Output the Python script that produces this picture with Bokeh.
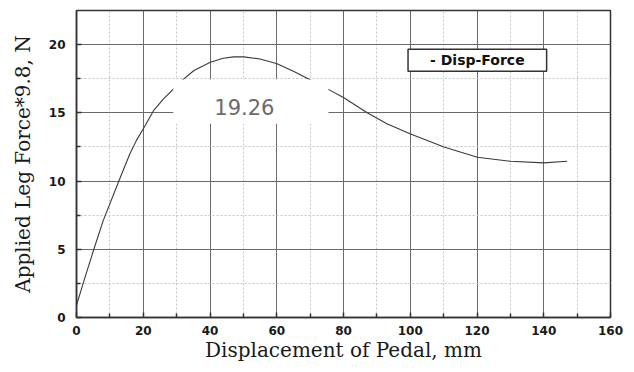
from bokeh.plotting import figure
from bokeh.models import Range1d, Label, FixedTicker
from bokeh.embed import file_html
from bokeh.resources import INLINE

# ---- data ----
disp_mm = [0, 2.5, 5.2, 8, 12.7, 16, 18, 20.2, 23.2, 26, 29.1, 31.7, 35.2, 40.1, 44,
           47.1, 50.1, 55, 60.1, 65, 70.1, 75.6, 80.1, 87.1, 93, 100.1, 110.1,
           120.1, 130, 140, 147]
force = [0.9, 2.9, 5.0, 7.1, 10.0, 12.0, 13.0, 13.9, 15.2, 16.0, 16.75, 17.4, 18.1, 18.7, 19.0,
         19.1, 19.1, 18.95, 18.6, 18.05, 17.4, 16.7, 16.1, 15.0, 14.2, 13.45, 12.5,
         11.75, 11.45, 11.33, 11.45]

x_ticks = [0, 20, 40, 60, 80, 100, 120, 140, 160]
y_ticks = [0, 5, 10, 15, 20]
x_minor = [10, 30, 50, 70, 90, 110, 130, 150]
y_minor = [2.5, 7.5, 12.5, 17.5]

peak_label = "19.26"
peak_label_pos = (50.3, 15.45)
peak_box = (29.0, 75.5, 14.2, 17.45)   # left, right, bottom, top (data units)
legend_text = "- Disp-Force"
legend_pos = (120.1, 18.86)

x_title = "Displacement of Pedal, mm"
y_title = "Applied Leg Force*9.8, N"

p = figure(width=626, height=364, output_backend="svg", toolbar_location=None,
           x_range=Range1d(0, 160), y_range=Range1d(0, 22.5),
           min_border_left=76, min_border_right=16, min_border_top=10, min_border_bottom=47)

p.background_fill_color = "white"
p.border_fill_color = "white"
p.outline_line_color = "#333333"
p.outline_line_width = 1.5

# grids
for ax_grid in (p.xgrid, p.ygrid):
    ax_grid.grid_line_color = "#6a6a6a"
    ax_grid.grid_line_width = 1
    ax_grid.minor_grid_line_color = "#c4c4c4"
    ax_grid.minor_grid_line_dash = "2 2"
    ax_grid.minor_grid_line_width = 1

p.xaxis.ticker = FixedTicker(ticks=x_ticks, minor_ticks=x_minor)
p.yaxis.ticker = FixedTicker(ticks=y_ticks, minor_ticks=y_minor)
p.xgrid.ticker = p.xaxis.ticker
p.ygrid.ticker = p.yaxis.ticker

for ax in (p.xaxis[0], p.yaxis[0]):
    ax.axis_line_color = "#333333"
    ax.axis_line_width = 1.5
    ax.major_tick_in = 5
    ax.major_tick_out = 0
    ax.minor_tick_in = 4
    ax.minor_tick_out = 0
    ax.major_tick_line_color = "#333333"
    ax.minor_tick_line_color = "#333333"
    ax.major_tick_line_width = 1.5
    ax.minor_tick_line_width = 1.5
    ax.major_label_text_font = "DejaVu Sans"
    ax.major_label_text_font_style = "bold"
    ax.major_label_text_font_size = "12px"
    ax.major_label_text_color = "#1a1a1a"
    ax.axis_label_text_font = "DejaVu Serif"
    ax.axis_label_text_font_style = "normal"
    ax.axis_label_text_font_size = "20px"
    ax.axis_label_text_color = "#1a1a1a"

p.xaxis.axis_label = x_title
p.yaxis.axis_label = y_title
p.xaxis.major_label_standoff = 8
p.xaxis.axis_label_standoff = 0
p.yaxis.major_label_standoff = 11
p.yaxis.axis_label_standoff = 11

# curve
p.line(disp_mm, force, line_color="#3a3a3a", line_width=1.1)

# white patch behind the peak value (covers grid and curve, as in the reference)
l, r, b, t = peak_box
p.quad(left=[l], right=[r], bottom=[b], top=[t], fill_color="white", line_color=None)

p.add_layout(Label(x=peak_label_pos[0], y=peak_label_pos[1], text=peak_label,
                   text_align="center", text_baseline="middle",
                   text_font="DejaVu Sans", text_font_size="21px", text_color="#6b6b6b"))

p.add_layout(Label(x=legend_pos[0], y=legend_pos[1], text=legend_text,
                   text_align="center", text_baseline="middle",
                   text_font="DejaVu Sans", text_font_style="bold", text_font_size="14px",
                   text_color="#111111",
                   background_fill_color="white", border_line_color="#333333",
                   border_line_width=1.5, padding=(22, 3)))

open("out.html", "w").write(file_html(p, INLINE))
